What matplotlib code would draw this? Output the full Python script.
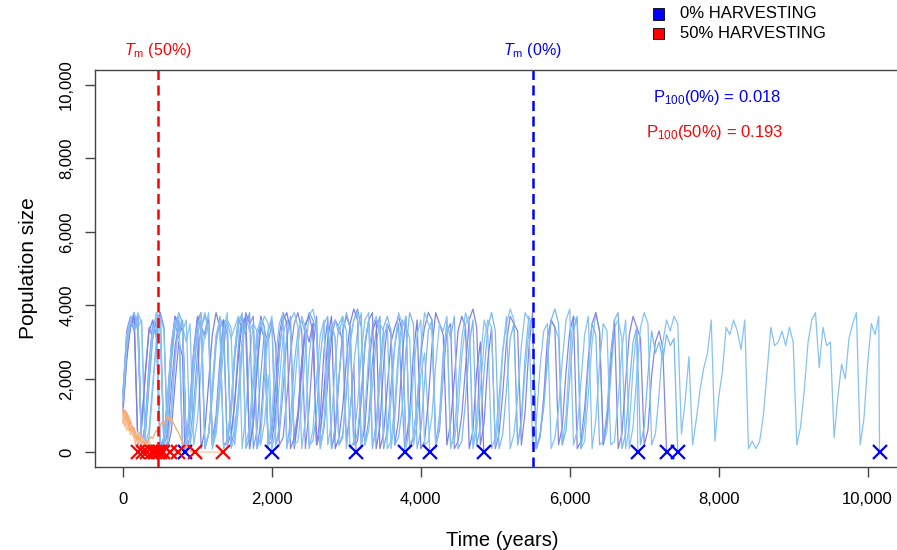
import numpy as np
import matplotlib
matplotlib.use("Agg")
import matplotlib.pyplot as plt

plt.rcParams['font.family'] = ['Liberation Sans', 'DejaVu Sans']
plt.rcParams['mathtext.fontset'] = 'custom'
plt.rcParams['mathtext.rm'] = 'Liberation Sans'
plt.rcParams['mathtext.it'] = 'Liberation Sans:italic'

# pas de temps des series (annees)
BLUE_STEP = 50
RED_STEP = 25

# 0% harvesting : valeurs en centaines d'individus, une valeur tous les 50 ans
blue_runs_x100 = [
    [15, 31, 36, 33, 37, 2, 8, 24, 35, 32, 38, 34, 1, 6, 19, 30, 26],
    [14, 28, 35, 38, 34, 36, 1, 4, 17, 31, 37, 33, 3, 12, 27, 36, 34, 30, 35, 2,
     9, 23, 33, 38, 2, 6, 20, 32, 36, 31, 34, 37, 1, 11, 26, 35, 33, 2, 8, 21],
    [16, 33, 37, 35, 2, 7, 22, 34, 31, 36, 38, 2, 5, 18, 29, 35, 1, 3, 14, 28,
     37, 34, 32, 36, 3, 10, 25, 36, 33, 2, 6, 16, 30, 38, 35, 37, 1, 8, 24, 33,
     36, 29, 2, 4, 15, 27, 35, 38, 33, 1, 12, 28, 37, 2, 7, 19, 31, 36, 34, 30,
     3, 11, 24],
    [13, 27, 34, 37, 33, 1, 5, 20, 32, 38, 34, 2, 9, 26, 35, 31, 36, 1, 4, 13,
     27, 34, 37, 35, 2, 8, 23, 36, 32, 3, 14, 29, 37, 34, 38, 1, 6, 21, 33, 30,
     35, 2, 5, 17, 31, 37, 2, 10, 24, 34, 38, 36, 33, 1, 7, 22, 35, 31, 2, 4,
     16, 30, 36, 39, 34, 2, 9, 25, 33, 37, 1, 6, 18, 29, 35, 14],
    [17, 32, 36, 34, 38, 35, 2, 6, 19, 30, 37, 1, 3, 11, 25, 35, 33, 36, 2, 8,
     22, 34, 38, 32, 1, 5, 16, 28, 36, 34, 2, 12, 27, 37, 33, 35, 1, 4, 20, 33,
     37, 2, 7, 23, 31, 36, 38, 34, 1, 9, 26, 35, 2, 5, 14, 27, 34, 36, 32, 37,
     1, 10, 24, 33, 38, 2, 6, 18, 30, 35, 33, 1, 3, 13, 28, 36, 34, 31, 2, 8,
     21, 27, 9],
    [12, 26, 35, 38, 2, 7, 21, 33, 36, 31, 1, 4, 15, 29, 37, 35, 33, 2, 10, 27,
     36, 1, 6, 19, 32, 38, 34, 36, 2, 5, 13, 26, 35, 32, 1, 8, 24, 37, 34, 2,
     3, 11, 28, 36, 38, 33, 1, 9, 22, 34, 30, 35, 2, 6, 17, 31, 37, 1, 4, 12,
     25, 35, 39, 36, 2, 7, 23, 33, 36, 1, 5, 18, 30, 34, 37, 33, 2, 11, 27, 36,
     1, 3, 14, 29, 38, 35, 32, 2, 8, 20, 33, 37, 34, 1, 6, 22, 30],
    [15, 30, 37, 34, 36, 1, 5, 18, 31, 38, 33, 2, 9, 24, 35, 37, 1, 3, 12, 27,
     36, 34, 31, 35, 2, 7, 22, 33, 38, 1, 4, 16, 30, 36, 2, 10, 26, 34, 37, 35,
     1, 6, 19, 32, 36, 33, 2, 3, 13, 28, 37, 39, 34, 1, 8, 23, 35, 31, 2, 5,
     17, 30, 36, 38, 1, 11, 27, 34, 37, 33, 2, 4, 14, 29, 38, 35, 1, 7, 21, 32,
     36, 2, 3, 10, 24, 35, 33, 37, 1, 6, 18, 31, 38, 34, 2, 9, 25, 36, 32, 1,
     4, 15, 28, 35, 39, 36, 2, 8, 22, 33, 37, 1, 5, 12, 26, 36, 34, 31, 2, 10,
     27, 37, 35, 1, 3, 16, 30, 38, 33, 2, 6, 20, 34, 36, 31, 1, 7, 23, 34],
    [11, 25, 34, 37, 35, 2, 6, 20, 33, 36, 1, 4, 14, 28, 37, 33, 35, 2, 9, 25,
     36, 38, 1, 5, 17, 31, 35, 2, 3, 12, 27, 36, 34, 37, 1, 8, 22, 34, 31, 2,
     6, 18, 32, 38, 35, 1, 4, 11, 25, 35, 37, 33, 2, 10, 28, 36, 1, 5, 20, 33,
     37, 34, 2, 3, 14, 29, 36, 38, 1, 7, 24, 35, 32, 2, 9, 26, 37, 1, 4, 13,
     27, 34, 38, 36, 2, 6, 21, 33, 35, 1, 3, 10, 23, 36, 39, 34, 2, 8, 25, 34,
     1, 5, 16, 30, 37, 35, 33, 2, 11, 28, 38, 1, 4, 15, 31, 36, 34, 2, 7, 22,
     33, 37, 1, 3, 12, 26, 35, 38, 33, 2, 9, 24, 36, 1, 5, 19, 32, 37, 34, 31,
     2, 6, 21, 30, 33, 28],
    [16, 29, 36, 33, 37, 2, 7, 23, 35, 31, 1, 3, 13, 26, 34, 38, 35, 2, 8, 21,
     32, 36, 1, 5, 15, 29, 37, 33, 2, 10, 25, 35, 38, 1, 4, 18, 31, 36, 34, 2,
     6, 14, 27, 37, 1, 9, 24, 33, 36, 32, 2, 3, 11, 26, 35, 37, 1, 7, 20, 32,
     38, 34, 2, 5, 16, 30, 36, 1, 8, 23, 34, 37, 33, 2, 4, 12, 28, 38, 35, 1,
     6, 19, 33, 36, 2, 10, 27, 35, 31, 37, 1, 3, 14, 29, 36, 2, 7, 22, 34, 38,
     33, 1, 5, 17, 31, 35, 2, 9, 26, 37, 34, 1, 4, 13, 25, 36, 39, 35, 2, 6,
     20, 33, 37, 1, 8, 24, 35, 32, 2, 3, 11, 27, 36, 38, 1, 5, 18, 30, 34, 2,
     7, 21, 33, 27, 30, 25, 32, 29, 31],
    [14, 28, 36, 38, 34, 1, 6, 21, 33, 37, 2, 4, 15, 30, 36, 33, 35, 1, 9, 25,
     34, 38, 2, 5, 18, 32, 36, 1, 3, 12, 28, 37, 35, 2, 7, 22, 33, 36, 31, 1,
     10, 26, 35, 38, 2, 4, 16, 29, 37, 34, 1, 6, 20, 32, 36, 2, 8, 24, 35, 37,
     33, 1, 3, 13, 27, 36, 38, 2, 5, 19, 31, 35, 1, 9, 25, 34, 37, 2, 4, 14,
     28, 38, 35, 33, 1, 7, 22, 36, 2, 3, 11, 26, 35, 37, 1, 6, 17, 30, 36, 34,
     2, 10, 27, 37, 1, 5, 15, 29, 38, 36, 2, 8, 23, 33, 35, 1, 4, 12, 25, 36,
     39, 2, 6, 19, 32, 37, 1, 9, 24, 35, 33, 2, 3, 14, 28, 36, 1, 7, 21, 34,
     38, 35, 2, 5, 16, 30, 36, 33, 37,
     35, 5, 14, 26, 2, 9, 17, 23, 27, 36, 3, 15, 22, 34, 32, 36, 33, 28, 36, 1,
     3, 1, 3, 10, 22, 34, 29, 30, 33, 29, 34, 30, 2, 7, 17, 30, 36, 38, 23, 34,
     29, 30, 4, 15, 24, 20, 31, 35, 38, 2, 9, 24, 35, 32, 37],
]
blue_extinction = [830, 2000, 3130, 3785, 4120, 4845, 6913, 7300, 7450, 10160]
blue_colors = ["#7F86E8", "#86C3F5", "#8A8AEA", "#6FA6F0", "#87BFF4",
               "#7D7FE6", "#86C4F6", "#8584E8", "#7AB8F2", "#86C2F5"]

# 50% harvesting : effectifs, une valeur tous les 25 ans
red_runs = [
    [1100, 900, 1050, 700, 820, 500, 380, 200, 90],
    [1000, 1150, 820, 950, 600, 700, 450, 300, 350, 160, 60],
    [900, 700, 850, 1000, 650, 500, 620, 400, 280, 330, 180, 90, 40],
    [1200, 950, 800, 980, 700, 560, 680, 450, 380, 500, 300, 220, 260, 140, 80, 30],
    [800, 1000, 1100, 850, 600, 720, 540, 420, 480, 330, 260, 380, 250, 160, 200,
     110, 60, 20],
    [1050, 850, 600, 750, 900, 620, 450, 520, 380, 300, 420, 280, 200, 240, 150,
     100, 130, 60, 20],
    [950, 1150, 900, 700, 820, 560, 640, 480, 350, 420, 300, 340, 220, 160, 200,
     120, 80, 100, 40, 15],
    [1100, 800, 950, 680, 560, 720, 500, 420, 560, 380, 300, 360, 240, 280, 180,
     130, 170, 90, 60, 80, 30, 10],
    [850, 1000, 780, 900, 650, 500, 580, 420, 340, 400, 300, 240, 300, 200, 160,
     220, 140, 100, 150, 90, 60, 90, 40, 30, 50, 15],
    [900, 1050, 800, 650, 750, 520, 420, 500, 360, 280, 340, 230, 180, 250, 300,
     220, 160, 200, 130, 90, 120, 70, 50, 80, 40, 30, 45, 20, 15, 10],
    [1150, 900, 1000, 760, 600, 700, 480, 400, 460, 320, 250, 300, 200, 260, 340,
     420, 380, 500, 600, 560, 700, 820, 750, 900, 1000, 850, 950, 800, 700, 600,
     520, 380, 300, 200, 140, 90, 60, 40, 20],
    [950, 780, 850, 600, 480, 560, 400, 320, 260, 300, 200, 150, 180, 120, 90,
     110, 70, 60, 80, 50, 40, 60, 35, 30, 45, 25, 20, 30, 20, 15, 25, 15, 10,
     20, 12, 10, 15, 8, 10, 12, 8, 6, 10, 8, 5, 8, 6, 5, 7, 5, 4, 5, 3, 2],
]
red_extinction = [201, 268, 322, 389, 430, 470, 497, 537, 631, 738, 966, 1342]
red_colors = ["#F6AA70", "#F9C298"]

tm_50 = 470
tm_0 = 5500
p100_0 = "0.018"
p100_50 = "0.193"
xticks = [0, 2000, 4000, 6000, 8000, 10000]
yticks = [0, 2000, 4000, 6000, 8000, 10000]


def run_xy(values, step, ext, scale=1):
    t = np.arange(len(values)) * step
    v = np.array(values, dtype=float) * scale
    keep = t < ext
    return np.append(t[keep], ext), np.append(v[keep], 0)


fig = plt.figure(figsize=(8.97, 5.5), dpi=100)
ax = fig.add_axes([0.1059, 0.1509, 0.9075, 0.7218])

for i in range(len(blue_runs_x100)):
    t, v = run_xy(blue_runs_x100[i], BLUE_STEP, blue_extinction[i], 100)
    ax.plot(t, v, color=blue_colors[i], lw=0.9)

for i in range(len(red_runs)):
    t, v = run_xy(red_runs[i], RED_STEP, red_extinction[i])
    ax.plot(t, v, color=red_colors[i % 2], lw=0.9)

ax.plot(blue_extinction, np.zeros(len(blue_extinction)), ls="none", marker="x",
        ms=10, mew=1.6, color="#0000FF", clip_on=False)
ax.plot(red_extinction, np.zeros(len(red_extinction)), ls="none", marker="x",
        ms=10, mew=1.6, color="#FF0000", clip_on=False)

ax.axvline(tm_50, color="#FF0000", lw=1.8, dashes=(4, 2.2))
ax.axvline(tm_0, color="#0000FF", lw=1.8, dashes=(4, 2.2))

trans = ax.get_xaxis_transform()
ax.text(tm_50, 1.05, r"$T_{\mathrm{m}}$ (50%)", transform=trans, ha="center",
        va="center", color="#FF0000", fontsize=11.5, clip_on=False)
ax.text(tm_0, 1.05, r"$T_{\mathrm{m}}$ (0%)", transform=trans, ha="center",
        va="center", color="#0000FF", fontsize=11.5, clip_on=False)

ax.text(7980, 9650, r"P$_{100}$(0%) = " + p100_0, ha="center", va="center",
        color="#0000FF", fontsize=12)
ax.text(7950, 8700, r"P$_{100}$(50%) = " + p100_50, ha="center", va="center",
        color="#FF0000", fontsize=12)

ax.set_xlim(-376, 10556)
ax.set_ylim(-400, 10400)
ax.set_xticks(xticks)
ax.set_xticklabels(["{:,}".format(x) for x in xticks])
ax.set_yticks(yticks)
ax.set_yticklabels(["{:,}".format(y) for y in yticks], rotation=90, va="center")
ax.tick_params(direction="out", length=7, width=1, color="#444444",
               labelsize=12, pad=8)
ax.tick_params(axis="x", pad=11)
for s in ax.spines.values():
    s.set_color("#444444")
    s.set_linewidth(1)

ax.set_xlabel("Time (years)", fontsize=14.5, labelpad=17)
ax.set_ylabel("Population size", fontsize=15, labelpad=15)

# legende en haut a droite
fig.patches.append(plt.Rectangle((653 / 897, 1 - 19.5 / 550), 11 / 897, 11 / 550,
                                 transform=fig.transFigure, facecolor="#0000FF",
                                 edgecolor="black", lw=0.6))
fig.patches.append(plt.Rectangle((653 / 897, 1 - 38.5 / 550), 11 / 897, 11 / 550,
                                 transform=fig.transFigure, facecolor="#FF0000",
                                 edgecolor="black", lw=0.6))
fig.text(680 / 897, 1 - 14 / 550, "0% HARVESTING", fontsize=12, va="center")
fig.text(680 / 897, 1 - 33 / 550, "50% HARVESTING", fontsize=12, va="center")

fig.savefig("out.png", dpi=100)
